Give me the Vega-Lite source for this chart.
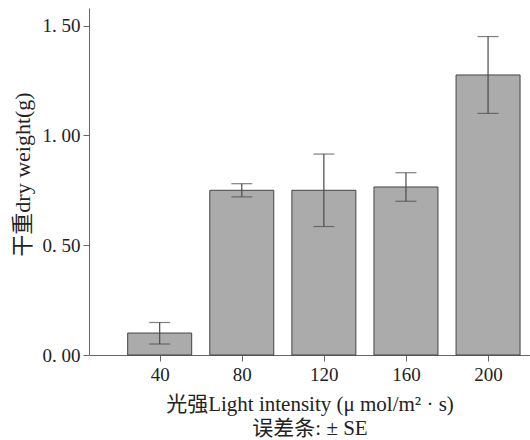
{
  "$schema": "https://vega.github.io/schema/vega-lite/v6.json",
  "width": 441,
  "height": 347,
  "autosize": "none",
  "padding": {"left": 89, "top": 8, "right": 0, "bottom": 85},
  "background": "white",
  "config": {
    "view": {"stroke": null},
    "font": "Liberation Serif",
    "axis": {
      "grid": false,
      "domainColor": "#666666",
      "tickColor": "#666666",
      "labelColor": "#222222",
      "titleColor": "#222222",
      "labelFont": "Liberation Serif",
      "titleFont": "Liberation Serif, Noto Sans CJK SC",
      "labelFontSize": 19,
      "titleFontSize": 18,
      "titleFontWeight": "normal",
      "tickSize": 6
    }
  },
  "data": {
    "values": [
      {"light": 40, "mean": 0.10, "lo": 0.05, "hi": 0.148},
      {"light": 80, "mean": 0.75, "lo": 0.72, "hi": 0.78},
      {"light": 120, "mean": 0.75, "lo": 0.585, "hi": 0.915},
      {"light": 160, "mean": 0.765, "lo": 0.70, "hi": 0.83},
      {"light": 200, "mean": 1.275, "lo": 1.10, "hi": 1.45}
    ]
  },
  "layer": [
    {
      "mark": {"type": "bar", "size": 64, "fill": "#ababab", "stroke": "#444444", "strokeWidth": 1},
      "encoding": {
        "x": {
          "field": "light",
          "type": "quantitative",
          "scale": {"domain": [8, 218], "nice": false, "zero": false},
          "axis": {
            "values": [40, 80, 120, 160, 200],
            "labelPadding": 4,
            "title": ["光强Light intensity (μ mol/m² · s)", "误差条: ± SE"],
            "titleFontSize": 21,
            "titleLineHeight": 24,
            "titlePadding": 9
          }
        },
        "y": {
          "field": "mean",
          "type": "quantitative",
          "scale": {"domain": [0, 1.58], "nice": false},
          "axis": {
            "values": [0, 0.5, 1, 1.5],
            "labelExpr": "replace(format(datum.value, '.2f'), '.', '. ')",
            "labelPadding": 3,
            "title": "干重dry weight(g)",
            "titleFontSize": 22,
            "titleX": -67,
            "titleY": 166,
            "titleBaseline": "middle"
          }
        }
      }
    },
    {
      "mark": {"type": "rule", "color": "#4a4a4a", "strokeWidth": 1.2},
      "encoding": {
        "x": {"field": "light", "type": "quantitative"},
        "y": {"field": "lo", "type": "quantitative"},
        "y2": {"field": "hi"}
      }
    },
    {
      "mark": {"type": "tick", "orient": "horizontal", "size": 21, "thickness": 1.2, "color": "#4a4a4a"},
      "encoding": {
        "x": {"field": "light", "type": "quantitative"},
        "y": {"field": "hi", "type": "quantitative"}
      }
    },
    {
      "mark": {"type": "tick", "orient": "horizontal", "size": 21, "thickness": 1.2, "color": "#4a4a4a"},
      "encoding": {
        "x": {"field": "light", "type": "quantitative"},
        "y": {"field": "lo", "type": "quantitative"}
      }
    }
  ]
}
